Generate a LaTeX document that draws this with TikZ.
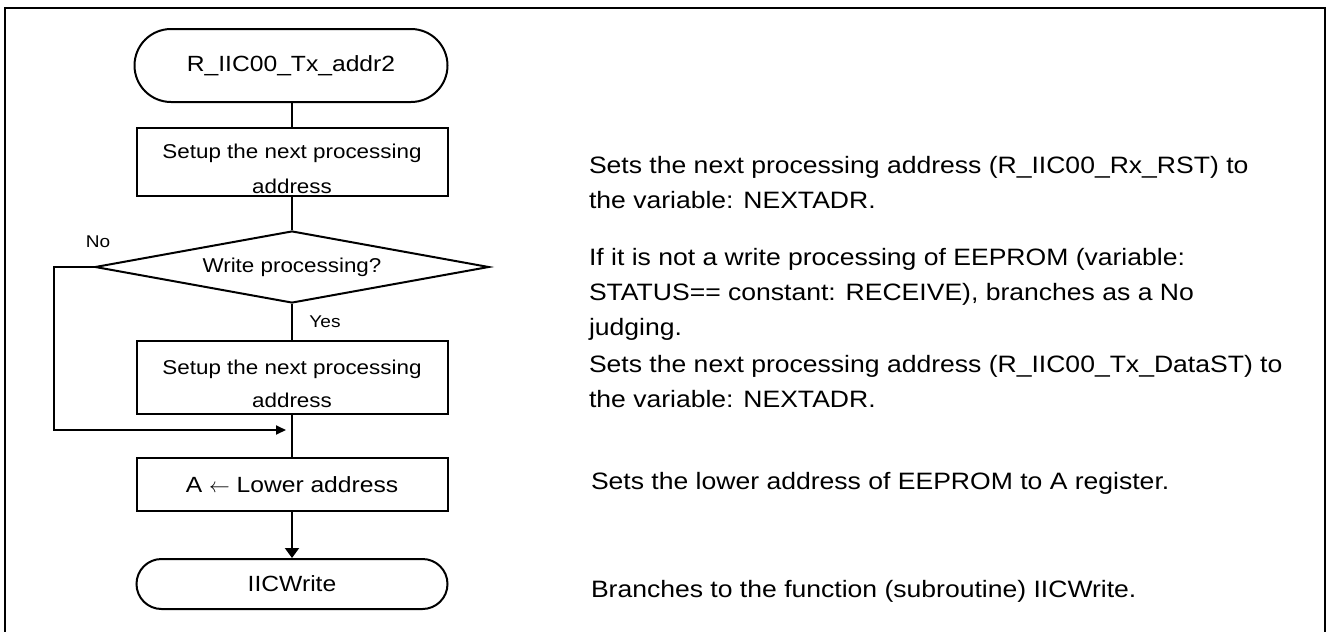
\documentclass[tikz,border=0pt]{standalone}
\usepackage{fontspec}
\setmainfont{Liberation Sans}[FakeStretch=1.12]
\usetikzlibrary{
	positioning,
	arrows.meta,
	shapes.geometric
}
\tikzset{
	proc/.style={
		draw, rectangle, minimum width=311pt, inner sep=2pt,
		align=center, font=\fontsize{20}{33}\selectfont
	},
	term/.style={
		draw, rectangle, rounded corners=#1, minimum width=311pt,
		minimum height=2*#1, inner sep=0pt,
		font=\fontsize{22}{26}\selectfont
	},
	decide/.style={
		draw, diamond, aspect=5.47, inner sep=0pt,
		minimum width=394pt, minimum height=72pt,
		font=\fontsize{20}{24}\selectfont
	},
	note/.style={
		anchor=base west, align=left, inner sep=0pt,
		font=\fontsize{23.7}{35}\selectfont
	},
	tag/.style={
		anchor=base, inner sep=0pt,
		font=\fontsize{17}{20}\selectfont
	},
	flow/.style={
		-{Triangle[length=10pt,width=9pt]}
	}
}

\begin{document}
\begin{tikzpicture}[x=1pt, y=-1pt, line width=2pt]
	\useasboundingbox (0,0) rectangle (1326,632);
	\draw (5,632) |- (1324.5,7.5) -- (1324.5,632);

	% flow chart
	\node[term=36.5pt, minimum width=313pt] (start) at (291,65.5) {R\_IIC00\_Tx\_addr2};
	\node[proc, minimum height=68pt, text height=62pt, text depth=0pt,
		font=\fontsize{20}{35}\selectfont] (setup1) at (292,162) {Setup the next processing\\address};
	\node[decide] (write) at (292,267) {Write processing?};
	\node[proc, minimum height=73pt, text height=59.5pt] (setup2) at (292,377.5) {Setup the next processing\\address};
	\node[proc, minimum height=53pt, font=\fontsize{22}{26}\selectfont] (lower) at (292,484.5) {A $\leftarrow$ Lower address};
	\node[term=25pt] (iicw) at (292,584) {IICWrite};

	\node[tag] (no)  at (98,247)  {No};
	\node[tag] (yes) at (325,327) {Yes};
	\coordinate (join) at (286,430);

	\draw (start.south -| setup1.north) -- (setup1);
	\draw (setup1) -- (write);
	\draw (write) -- (setup2);
	\draw (setup2) -- (lower);
	\draw[flow] (write.west) -- ++(-40pt,0pt) |- (join);
	\draw[-{Triangle[length=10pt,width=14pt]}] (lower) -- (iicw);

	% notes (anchored at the baseline of the last line)
	\node[note] (n1) at (588,208) {Sets the next processing address (R\_IIC00\_Rx\_RST) to\\the variable: NEXTADR.};
	\node[note] (n2) at (588,335) {If it is not a write processing of EEPROM (variable:\\STATUS== constant: RECEIVE), branches as a No\\judging.};
	\node[note] (n3) at (588,407) {Sets the next processing address (R\_IIC00\_Tx\_DataST) to\\the variable: NEXTADR.};
	\node[note] (n4) at (590,489) {Sets the lower address of EEPROM to A register.};
	\node[note] (n5) at (590,597) {Branches to the function (subroutine) IICWrite.};
\end{tikzpicture}
\end{document}
